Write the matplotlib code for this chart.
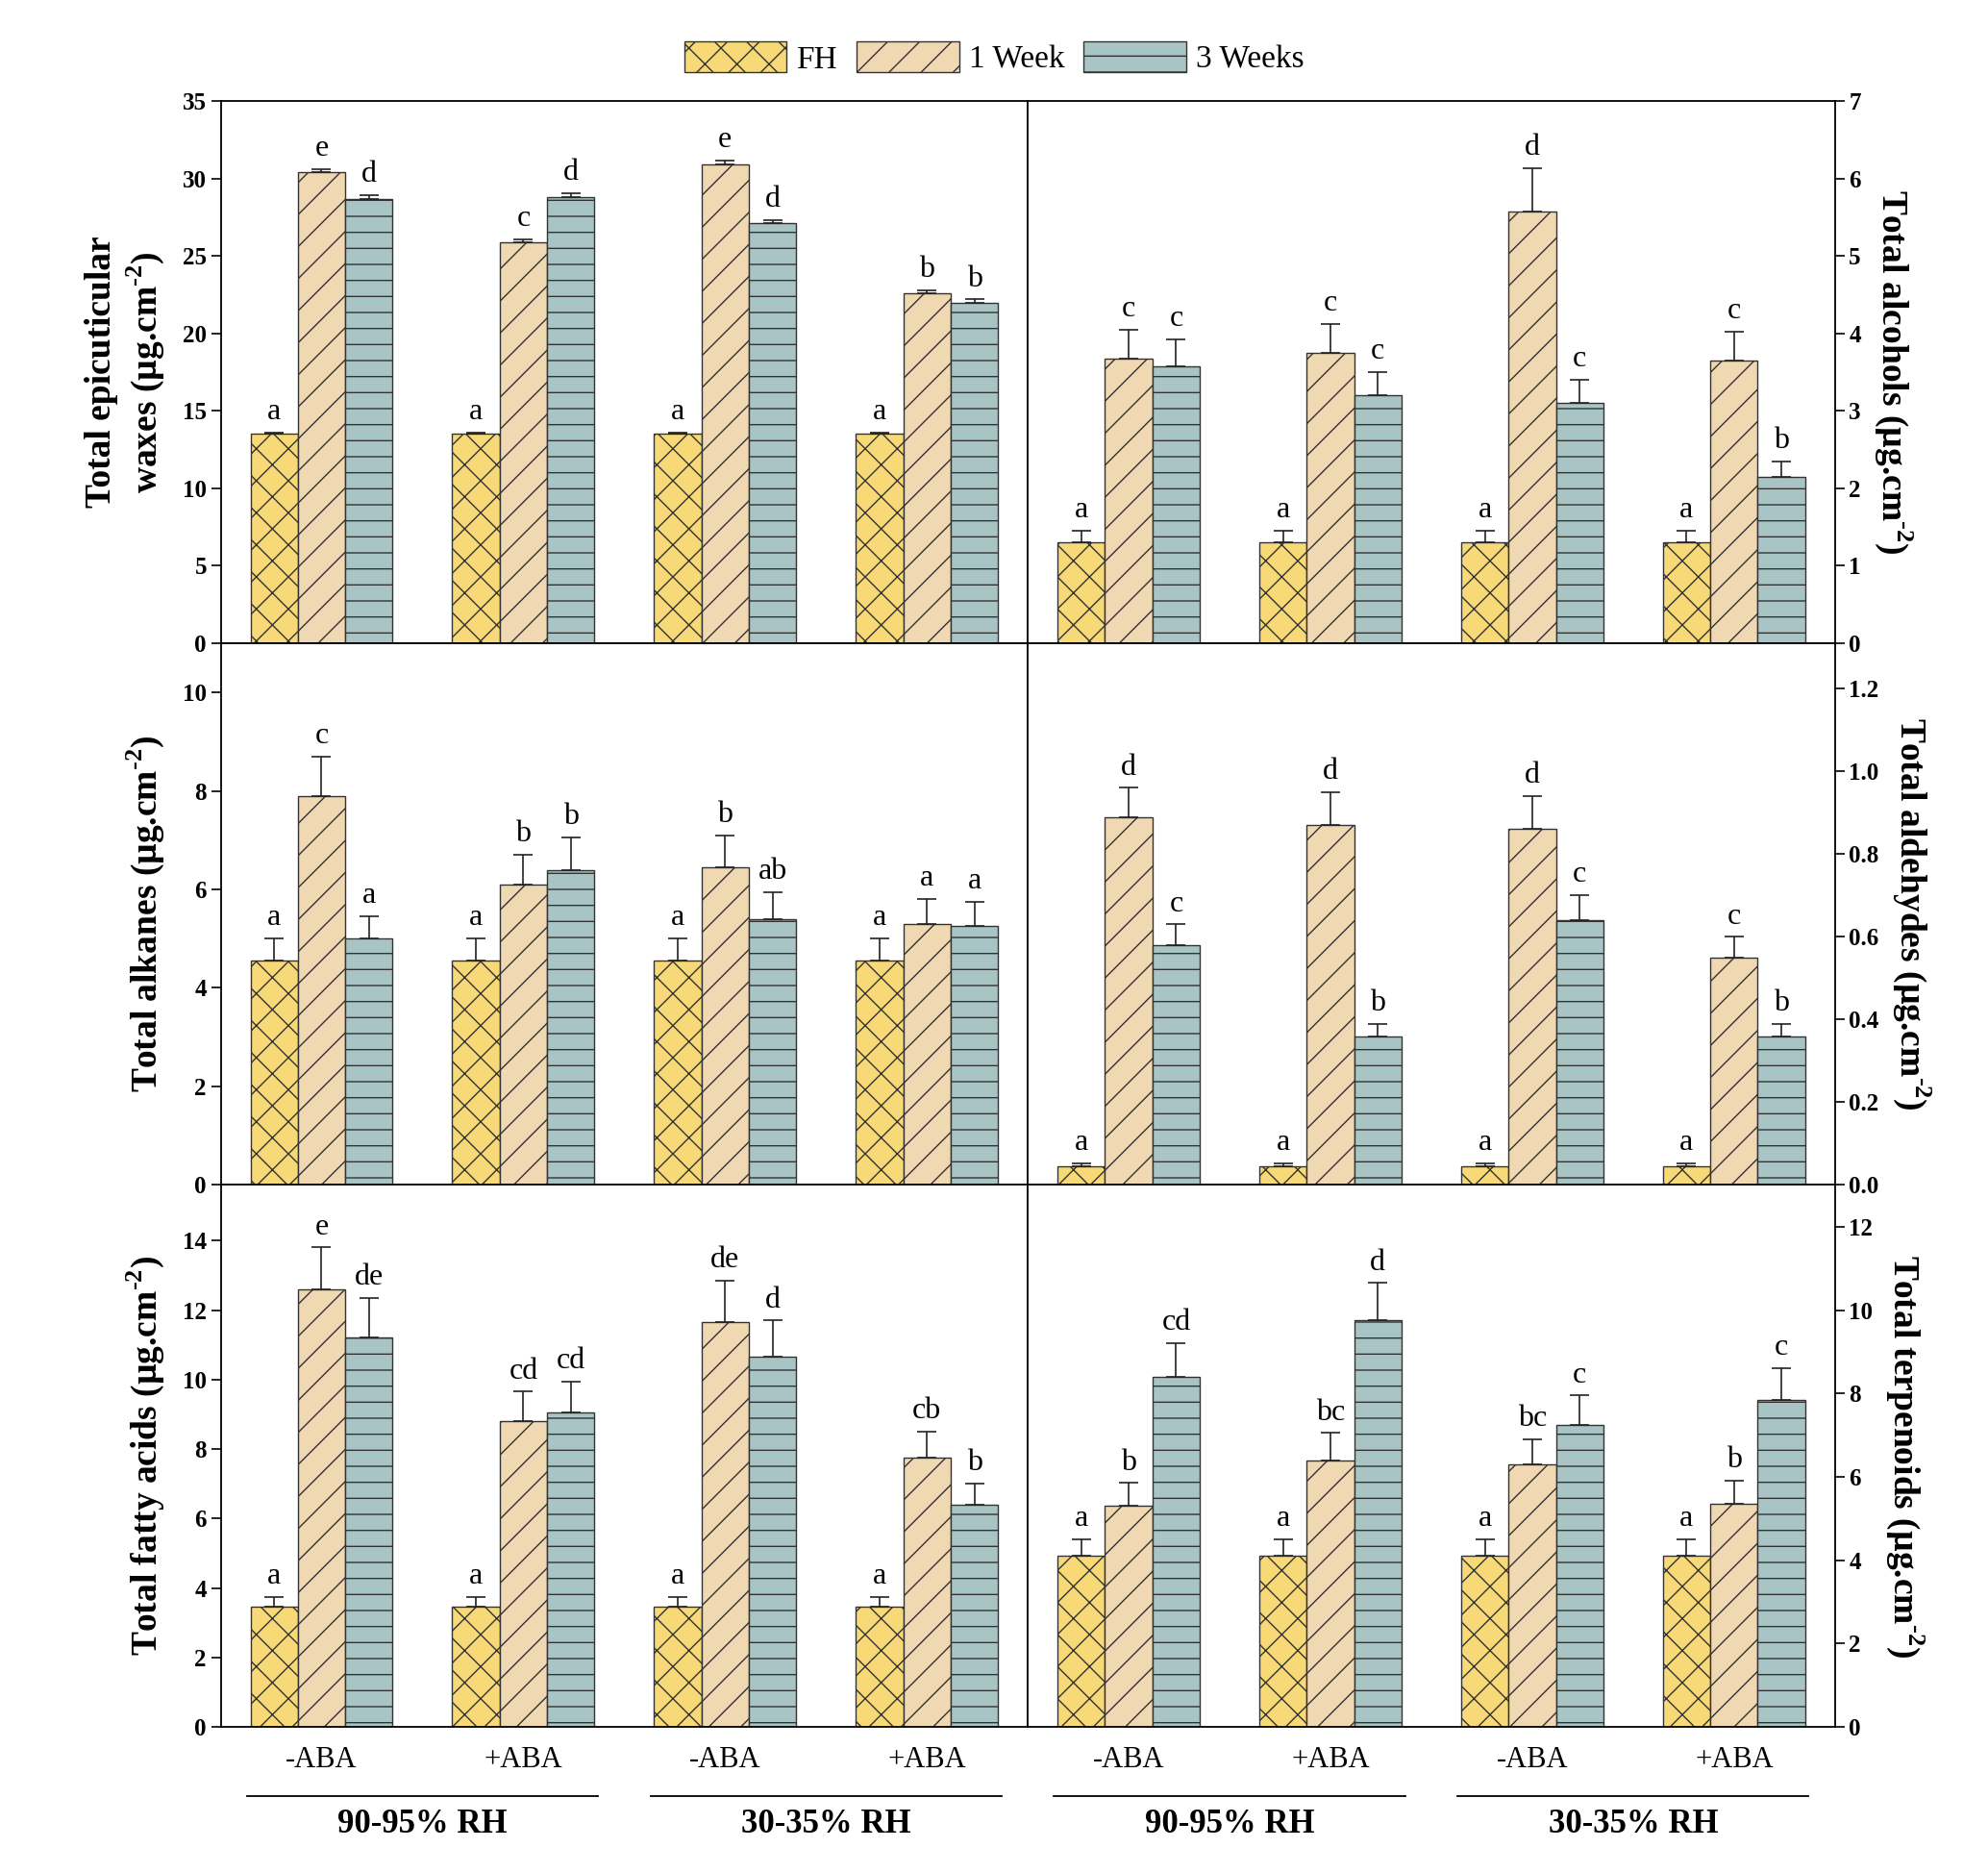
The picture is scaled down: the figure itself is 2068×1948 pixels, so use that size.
import numpy as np
import matplotlib.pyplot as plt

plt.rcParams['font.family'] = ['Liberation Serif', 'DejaVu Serif']
plt.rcParams['mathtext.fontset'] = 'custom'
plt.rcParams['mathtext.rm'] = 'Liberation Serif'
plt.rcParams['mathtext.bf'] = 'Liberation Serif:bold'
plt.rcParams['hatch.linewidth'] = 1.0
plt.rcParams['hatch.color'] = '#333333'

groups = ["-ABA", "+ABA", "-ABA", "+ABA"]
series = ["FH", "1 Week", "3 Weeks"]
colors = ["#F8D978", "#EFD8B2", "#A8C4C4"]
hatches = ["x", "/", "-"]

# panel data: means, errors, letters per series (FH, 1W, 3W), 4 groups each
waxes = [[13.5, 13.5, 13.5, 13.5], [30.4, 25.9, 30.9, 22.6], [28.7, 28.8, 27.1, 22.0]]
waxes_err = [[0.1] * 4, [0.2, 0.2, 0.25, 0.2], [0.25, 0.25, 0.2, 0.2]]
waxes_let = [["a"] * 4, ["e", "c", "e", "b"], ["d", "d", "d", "b"]]

alcohols = [[1.3] * 4, [3.68, 3.75, 5.58, 3.65], [3.57, 3.2, 3.1, 2.15]]
alcohols_err = [[0.15] * 4, [0.37, 0.37, 0.55, 0.37], [0.35, 0.3, 0.3, 0.2]]
alcohols_let = [["a"] * 4, ["c", "c", "d", "c"], ["c", "c", "c", "b"]]

alkanes = [[4.55] * 4, [7.9, 6.1, 6.45, 5.3], [5.0, 6.4, 5.4, 5.25]]
alkanes_err = [[0.45] * 4, [0.8, 0.6, 0.65, 0.5], [0.45, 0.65, 0.55, 0.5]]
alkanes_let = [["a"] * 4, ["c", "b", "b", "a"], ["a", "b", "ab", "a"]]

aldehydes = [[0.045] * 4, [0.89, 0.87, 0.86, 0.55], [0.58, 0.36, 0.64, 0.36]]
aldehydes_err = [[0.008] * 4, [0.07, 0.08, 0.08, 0.05], [0.05, 0.03, 0.06, 0.03]]
aldehydes_let = [["a"] * 4, ["d", "d", "d", "c"], ["c", "b", "c", "b"]]

fatty = [[3.45] * 4, [12.6, 8.8, 11.65, 7.75], [11.2, 9.05, 10.65, 6.4]]
fatty_err = [[0.3] * 4, [1.2, 0.85, 1.2, 0.75], [1.15, 0.9, 1.05, 0.6]]
fatty_let = [["a"] * 4, ["e", "cd", "de", "cb"], ["de", "cd", "d", "b"]]

terp = [[4.1] * 4, [5.3, 6.4, 6.3, 5.35], [8.4, 9.75, 7.25, 7.85]]
terp_err = [[0.4] * 4, [0.55, 0.65, 0.6, 0.55], [0.8, 0.9, 0.7, 0.75]]
terp_let = [["a"] * 4, ["b", "bc", "bc", "b"], ["cd", "d", "c", "c"]]

unit = "(µg.cm$^{\\mathbf{\u2010}\\mathbf{2}}$)"
panels = [
    (waxes, waxes_err, waxes_let, "Total epicuticular\nwaxes " + unit, 35, np.arange(0, 36, 5), "%d"),
    (alcohols, alcohols_err, alcohols_let, "Total alcohols " + unit, 7, np.arange(0, 8, 1), "%d"),
    (alkanes, alkanes_err, alkanes_let, "Total alkanes " + unit, 11, np.arange(0, 11, 2), "%d"),
    (aldehydes, aldehydes_err, aldehydes_let, "Total aldehydes " + unit, 1.31, np.arange(0, 1.21, 0.2), "%.1f"),
    (fatty, fatty_err, fatty_let, "Total fatty acids " + unit, 15.6, np.arange(0, 15, 2), "%d"),
    (terp, terp_err, terp_let, "Total terpenoids " + unit, 13.0, np.arange(0, 13, 2), "%d"),
]

fig, axes = plt.subplots(3, 2, figsize=(20.68, 19.48), dpi=100)
fig.subplots_adjust(left=0.111, right=0.923, top=0.946, bottom=0.078, hspace=0, wspace=0)

x = np.arange(len(groups))
w = 0.235
for k, ax in enumerate(axes.flatten()):
    vals, errs, lets, ylabel, ymax, ticks, fmt = panels[k]
    right = k % 2 == 1
    for i in range(3):
        xs = x + (i - 1) * w
        ax.bar(xs, vals[i], width=w, color=colors[i], hatch=hatches[i],
               edgecolor="#333333", linewidth=1.0, label=series[i])
        ax.errorbar(xs, vals[i], yerr=[np.zeros(4), errs[i]], fmt="none",
                    ecolor="#222222", elinewidth=1.2, capsize=7, capthick=1.2)
        for xi, v, e, t in zip(xs, vals[i], errs[i], lets[i]):
            ax.text(xi, v + e + ymax * 0.012, t, ha="center", va="bottom", fontsize=23)
    ax.set_xlim(-0.5, 3.5)
    ax.set_ylim(0, ymax)
    ax.set_yticks(ticks)
    ax.set_yticklabels([fmt % t for t in ticks], fontsize=18, fontweight="bold")
    ax.tick_params(axis="y", direction="out", length=7, width=1.2)
    ax.tick_params(axis="x", length=0)
    for s in ax.spines.values():
        s.set_linewidth(1.3)
    if right:
        ax.yaxis.tick_right()
        ax.yaxis.set_label_position("right")
        ax.set_ylabel(ylabel, fontsize=27, fontweight="bold", rotation=270, labelpad=40)
    else:
        ax.set_ylabel(ylabel, fontsize=27, fontweight="bold", labelpad=12)
    if k >= 4:
        ax.set_xticks(x)
        ax.set_xticklabels(groups, fontsize=22)
        ax.tick_params(axis="x", pad=14)
        tr = ax.get_xaxis_transform()
        for c, name in [(0.5, "90-95% RH"), (2.5, "30-35% RH")]:
            ax.plot([c - 0.87, c + 0.87], [-0.128, -0.128], color="black", lw=1.3,
                    transform=tr, clip_on=False)
            ax.text(c, -0.15, name, transform=tr, ha="center", va="top",
                    fontsize=25, fontweight="bold")
    else:
        ax.set_xticks([])

handles, labels = axes[0, 0].get_legend_handles_labels()
fig.legend(handles, labels, loc="center", bbox_to_anchor=(0.5, 0.969), ncol=3,
           frameon=False, fontsize=24, handlelength=3.2, handleheight=1.1,
           columnspacing=0.6, handletextpad=0.3)

plt.savefig("out.png", dpi=100)
